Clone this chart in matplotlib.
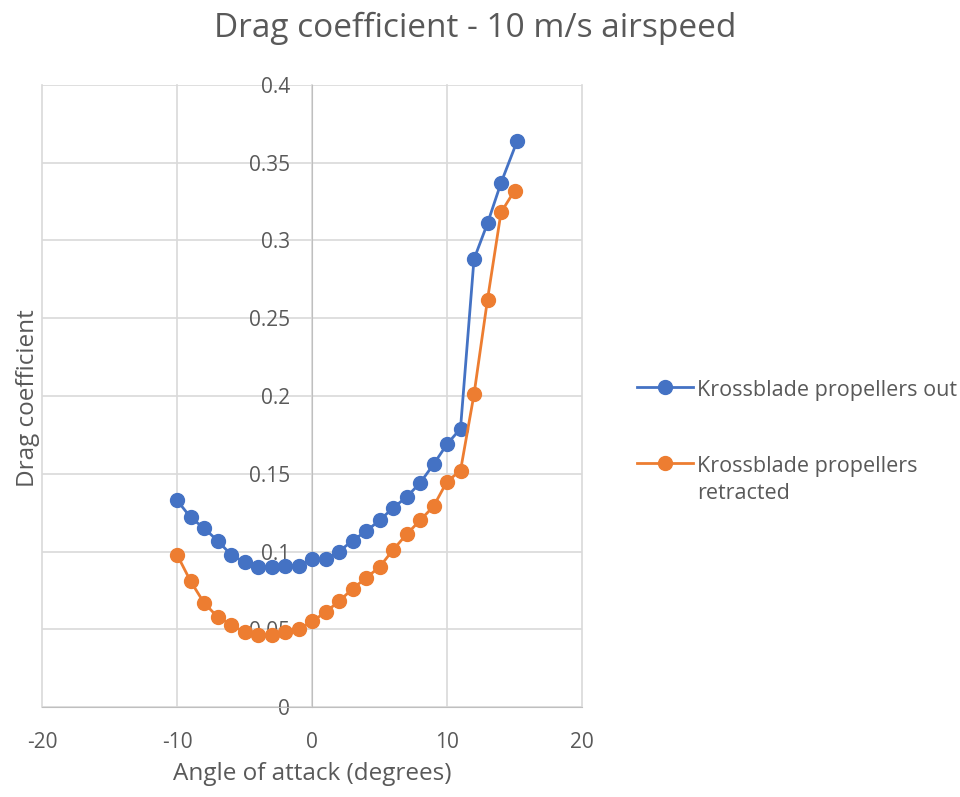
import matplotlib.pyplot as plt
from matplotlib.ticker import FixedLocator

plt.rcParams['font.family'] = ['Open Sans', 'DejaVu Sans']
plt.rcParams['axes.unicode_minus'] = False

# angle of attack (degrees)
aoa_out = [-10, -9, -8, -7, -6, -5, -4, -3, -2, -1, 0, 1, 2, 3, 4, 5, 6, 7, 8, 9, 10, 11, 12, 13, 14, 15.2]
cd_out = [0.133, 0.122, 0.115, 0.107, 0.098, 0.093, 0.090, 0.090, 0.091, 0.091, 0.095, 0.095, 0.100,
          0.107, 0.113, 0.120, 0.128, 0.135, 0.144, 0.156, 0.169, 0.179, 0.288, 0.311, 0.337, 0.364]

aoa_ret = [-10, -9, -8, -7, -6, -5, -4, -3, -2, -1, 0, 1, 2, 3, 4, 5, 6, 7, 8, 9, 10, 11, 12, 13, 14, 15]
cd_ret = [0.098, 0.081, 0.067, 0.058, 0.053, 0.048, 0.046, 0.046, 0.048, 0.050, 0.055, 0.061, 0.068,
          0.076, 0.083, 0.090, 0.101, 0.111, 0.120, 0.129, 0.145, 0.152, 0.201, 0.262, 0.318, 0.332]

x_ticks = [-20, -10, 0, 10, 20]
y_ticks = [0, 0.05, 0.1, 0.15, 0.2, 0.25, 0.3, 0.35, 0.4]
y_tick_labels = ["0", "0.05", "0.1", "0.15", "0.2", "0.25", "0.3", "0.35", "0.4"]

text_col = "#595959"
grid_col = "#D9D9D9"

fig = plt.figure(figsize=(9.6, 7.97), dpi=100)
ax = fig.add_axes([0.04375, 0.1129, 0.5625, 0.7805])

ax.plot(aoa_out, cd_out, color="#4472C4", lw=2.0, marker="o", ms=10,
        label="Krossblade propellers out", zorder=3, clip_on=False)
ax.plot(aoa_ret, cd_ret, color="#ED7D31", lw=2.0, marker="o", ms=10,
        label="Krossblade propellers\nretracted", zorder=3, clip_on=False)

ax.set_xlim(-20, 20)
ax.set_ylim(0, 0.4)
ax.xaxis.set_major_locator(FixedLocator(x_ticks))
ax.set_yticks(y_ticks)
ax.set_yticklabels(y_tick_labels)
ax.grid(True, color=grid_col, lw=1.2, zorder=0)
ax.set_axisbelow(True)
for gl in ax.get_xgridlines() + ax.get_ygridlines():
    gl.set_clip_on(False)

# y axis crosses at x = 0, like the Excel chart
ax.spines['left'].set_position(('data', 0))
ax.spines['left'].set_color("#BFBFBF")
ax.spines['bottom'].set_color("#BFBFBF")
ax.spines['right'].set_visible(False)
ax.spines['top'].set_visible(False)

ax.tick_params(axis='y', length=0, pad=16, labelsize=15, labelcolor=text_col)
ax.tick_params(axis='x', length=0, pad=18, labelsize=15, labelcolor=text_col)

fig.suptitle("Drag coefficient - 10 m/s airspeed", x=0.495, y=0.965, va="center",
             fontsize=24, color=text_col)
ax.set_xlabel("Angle of attack (degrees)", fontsize=17.5, color=text_col)
ax.set_ylabel("Drag coefficient", fontsize=17.5, color=text_col)
ax.xaxis.set_label_coords(0.5, -0.088)
ax.yaxis.set_label_coords(40 / 960, 0.5, transform=fig.transFigure)

leg = ax.legend(loc="center left", bbox_to_anchor=(1.102, 0.426), frameon=False,
                fontsize=15.5, labelcolor=text_col, handlelength=2.6, handletextpad=0.2,
                labelspacing=2.55, borderaxespad=0, borderpad=0)
leg.get_texts()[1].set_linespacing(1.4)
# keep the marker level with the first line of a wrapped label
for row in leg._legend_handle_box.get_children()[0].get_children():
    row.align = "top"

fig.savefig("out.png", dpi=100)
